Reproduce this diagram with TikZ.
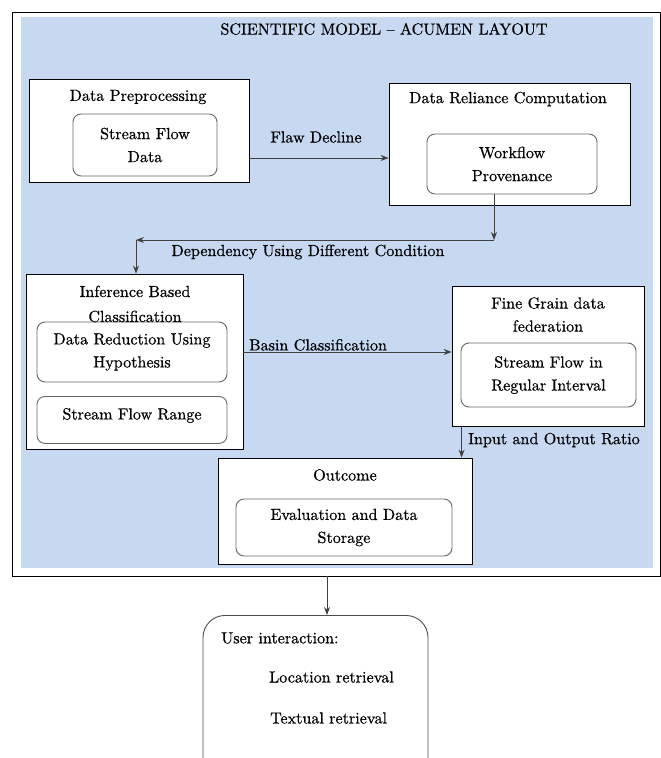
\documentclass[tikz,border=0pt]{standalone}
\usepackage{fontspec}
\setmainfont{lmroman10-regular.otf}[Ligatures=TeX,FakeBold=0.6]
\usepackage{tikz}
\usetikzlibrary{positioning,arrows.meta}
\usepackage{xcolor}
\definecolor{panelblue}{RGB}{198,217,241}
\newcommand{\dfont}{\fontsize{16.1}{23}\selectfont}

\begin{document}
\begin{tikzpicture}[x=1pt,y=-1pt,>={Stealth[length=8pt,width=6pt]},
  every node/.append style={font=\dfont},
  stage/.style={draw=black,fill=white,line width=0.8pt,inner sep=0pt},
  sub/.style={draw=black!60,fill=white,rounded corners=8pt,line width=0.9pt,align=center,inner sep=0pt},
  link/.style={->,draw=black!75,line width=0.8pt}]
\useasboundingbox (0,0) rectangle (661,758);
\clip (0,0) rectangle (661,758);
\fill[panelblue] (21,17) rectangle (653,568);
\draw[line width=0.9pt] (12,12) rectangle (660,576);
\node (title) at (384,29) {SCIENTIFIC MODEL -- ACUMEN LAYOUT};
% preprocessing and reliance
\node[stage,minimum width=220,minimum height=103] (prep) at (139,130.5) {};
\node (prept) at (138,97) {Data Preprocessing};
\node[sub,minimum width=144,minimum height=62] (flow) at (145,145) {Stream Flow\\Data};
\node[stage,minimum width=241,minimum height=122] (rel) at (509.5,144) {};
\node (relt) at (508,99) {Data Reliance Computation};
\node[sub,minimum width=170,minimum height=60] (wf) at (512,164) {Workflow\\Provenance};
\draw[link] ([yshift=-27.5]prep.east) -- ([yshift=-27.5]prep.east -| rel.west);
\node (flaw) at (316,137) {Flaw Decline};
% classification
\node[stage,minimum width=217,minimum height=175] (infer) at (134.5,361.5) {};
\node[sub,minimum width=190,minimum height=60] (reduce) at (132,352) {Data Reduction Using\\Hypothesis};
\node[sub,minimum width=190,text height=23,text depth=24,anchor=north] (range) at (132,396) {Stream Flow Range};
\node[align=center,font=\fontsize{16.1}{25}\selectfont] (infert) at (135,304) {Inference Based\\Classification};
\coordinate (c1) at (494,240);
\coordinate (c2) at (136,240);
\draw[link] (c1 |- wf.south) -- (c1);
\draw[link] (c1) -- (c2);
\draw[link] (c2) -- (c2 |- infer.north);
\node (dep) at (308,252) {Dependency Using Different Condition};
\node[stage,minimum width=192,minimum height=140] (fine) at (548,356) {};
\node[align=center] (finet) at (548,314.5) {Fine Grain data\\federation};
\node[sub,minimum width=175,minimum height=64] (regular) at (548.5,375) {Stream Flow in\\Regular Interval};
\draw[link] (infer.east |- reduce) -- (fine.west |- reduce);
\node[anchor=south west,inner sep=0pt] (basin) at (249,351) {Basin Classification};
% outcome
\node[stage,minimum width=254,minimum height=106] (out) at (345,511) {};
\node (outt) at (345,475) {Outcome};
\node[sub,minimum width=216,minimum height=57] (eval) at (344,527.5) {Evaluation and Data\\Storage};
\draw[link] ([xshift=10]fine.south west) -- ([xshift=10]fine.south west |- out.north);
\node[anchor=west,inner sep=0pt] (ratio) at (468,440) {Input and Output Ratio};
% user side
\node[draw=black!70,line width=0.9pt,rounded corners=22pt,minimum width=225,minimum height=200,anchor=north] (user) at (315.5,615) {};
\coordinate (fb) at (327,576);
\draw[link] (fb) -- (fb |- user.north);
\node[anchor=west,inner sep=0pt] (ui) at (221,638) {User interaction:};
\node[anchor=west,inner sep=0pt] (loc) at (269,677) {Location retrieval};
\node[anchor=west,inner sep=0pt] (txt) at (270,718) {Textual retrieval};
\end{tikzpicture}
\end{document}
